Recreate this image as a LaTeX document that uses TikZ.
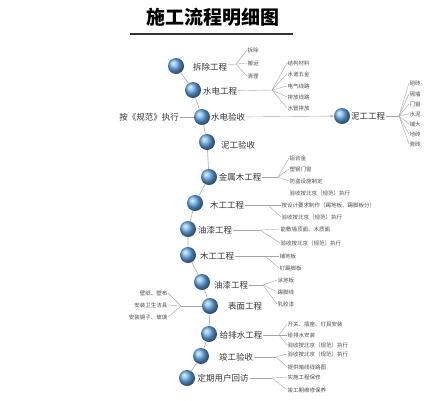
\documentclass[tikz,border=0pt]{standalone}
\usepackage{fontspec}
\newfontfamily\cjk{Noto Sans CJK SC}
\usetikzlibrary{arrows.meta}
\definecolor{ballblue}{RGB}{105,175,240}
\tikzset{
  ball/.style={circle,minimum size=16pt,inner sep=0pt,shading=ball,ball color=ballblue},
  stage/.style={font=\cjk\fontsize{8.5}{9}\selectfont,text=black!80,inner sep=1pt},
  item/.style={font=\cjk\fontsize{5.5}{6}\selectfont,text=black!70,inner sep=0.5pt,anchor=west},
  litem/.style={item,anchor=east},
  chainline/.style={draw=gray!60,line width=0.7pt},
  branch/.style={draw=gray!70,line width=0.4pt},
}

\begin{document}
\begin{tikzpicture}[x=1pt,y=-1pt]
\useasboundingbox (0,0) rectangle (430,400);
%%%%% TITLE %%%%%
\node[font=\cjk\bfseries\fontsize{19}{19}\selectfont] (title) at (213,17) {施工流程明细图};
\draw[line width=1.2pt,black!80] (130,34) -- (293,34);

%%%%% BALLS %%%%%
\node[ball] (b1) at (176,66) {};
\node[ball] (b2) at (193,90) {};
\node[ball] (b3) at (202,117) {};
\node[ball] (b4) at (207,142) {};
\node[ball] (b5) at (209,177) {};
\node[ball] (b6) at (195,203) {};
\node[ball] (b7) at (188,229) {};
\node[ball] (b8) at (188,255) {};
\node[ball] (b9) at (202,282) {};
\node[ball] (b10) at (210,306) {};
\node[ball] (b11) at (209,334) {};
\node[ball] (b12) at (201,356) {};
\node[ball] (b13) at (187,378) {};
\node[ball] (b14) at (342,116) {};

\draw[chainline] (b1) -- (b2) -- (b3) -- (b4) -- (b5) -- (b6) -- (b7)
  -- (b8) -- (b9) -- (b10) -- (b11) -- (b12) -- (b13);

%%%%% STAGES %%%%%
\node[stage] (t1) at (210,67) {拆除工程};
\node[stage] (t2) at (220,91) {水电工程};
\node[stage,anchor=west] (t3) at (210,117) {水电验收};
\node[stage] (t4) at (238,145) {泥工验收};
\node[stage] (t5) at (240,177) {金属木工程};
\node[stage] (t6) at (227,205) {木工工程};
\node[stage] (t7) at (215,230) {油漆工程};
\node[stage] (t8) at (217,256) {木工工程};
\node[stage] (t9) at (231,285) {油漆工程};
\node[stage] (t10) at (245,306) {表面工程};
\node[stage] (t11) at (241,335) {给排水工程};
\node[stage] (t12) at (236,357) {竣工验收};
\node[stage] (t13) at (223,378) {定期用户回访};
\node[stage] (t14) at (368,116) {泥工工程};
\node[stage] (t15) at (149,117) {按《规范》执行};

\draw[branch] (t15) -- (b3);
\draw[branch,-{Stealth[length=4pt,width=3pt]}] (t3) -- (b14);

%%%%% BRANCHES %%%%%
% 拆除工程
\coordinate (f1) at (236,64);
\foreach \n/\y/\t in {a/50/拆除,b/63/搬运,c/76/清理}
  \node[item] (i1\n) at (247,\y) {\t};
\draw[branch] (t1) -- (f1);
\foreach \n in {a,b,c} \draw[branch] (f1) -- (i1\n.west);

% 水电工程
\coordinate (f2) at (272,90);
\foreach \n/\y/\t in {a/63/结构材料,b/74/水道五金,c/86/电气线路,d/97/排放线路,e/108/水管排放}
  \node[item] (i2\n) at (287,\y) {\t};
\draw[branch] (t2) -- (f2);
\foreach \n in {a,b,c,d,e} \draw[branch] (f2) -- (i2\n.west);

% 泥工工程
\coordinate (f14) at (399,116);
\foreach \n/\y/\t in {a/83/砌砖,b/94/隔墙,c/104/门窗,d/114/水泥,e/124/铺大,f/134/地砖,g/144/瓷砖}
  \node[item] (i14\n) at (409,\y) {\t};
\draw[branch] (t14) -- (f14);
\foreach \n in {a,b,c,d,e,f,g} \draw[branch] (f14) -- (i14\n.west);

% 金属木工程
\coordinate (f5) at (278,177);
\foreach \n/\y/\t in {a/158/铝合金,b/169/塑钢门窗,c/181/防盗设施制定,d/193/验收按北京（规范）执行}
  \node[item] (i5\n) at (289,\y) {\t};
\draw[branch] (t5) -- (f5);
\foreach \n in {a,b,c} \draw[branch] (f5) -- (i5\n.west);

% 木工工程
\coordinate (f6) at (268,205);
\foreach \n/\y/\t in {a/205/按设计要求制作（踢地板、踢脚板分）,b/217/验收按北京（规范）执行}
  \node[item] (i6\n) at (281,\y) {\t};
\draw[branch] (t6) -- (f6);
\foreach \n in {a,b} \draw[branch] (f6) -- (i6\n.west);

% 油漆工程
\coordinate (f7) at (260,230);
\foreach \n/\y/\t in {a/229/能敷墙顶面、木质面,b/243/验收按北京（规范）执行}
  \node[item] (i7\n) at (280,\y) {\t};
\draw[branch] (t7) -- (f7);
\foreach \n in {a,b} \draw[branch] (f7) -- (i7\n.west);

% 木工工程 (地板)
\coordinate (f8) at (265,256);
\foreach \n/\y/\t in {a/256/铺地板,b/268/钉踢脚板}
  \node[item] (i8\n) at (279,\y) {\t};
\draw[branch] (t8) -- (f8);
\foreach \n in {a,b} \draw[branch] (f8) -- (i8\n.west);

% 油漆工程 (面层)
\coordinate (f9) at (263,285);
\foreach \n/\y/\t in {a/280/涂地板,b/292/踢脚线,c/304/乳胶漆}
  \node[item] (i9\n) at (277,\y) {\t};
\draw[branch] (t9) -- (f9);
\foreach \n in {a,b,c} \draw[branch] (f9) -- (i9\n.west);

% 表面工程 (left side)
\coordinate (f10) at (181,306);
\foreach \n/\y/\t in {a/293/壁纸、壁布,b/305/安装卫生洁具,c/317/安装镜子、玻璃}
  \node[litem] (i10\n) at (168,\y) {\t};
\draw[branch] (b10) -- (f10);
\foreach \n in {a,b,c} \draw[branch] (f10) -- (i10\n.east);

% 给排水工程
\coordinate (f11) at (279,335);
\foreach \n/\y/\t in {a/324/开关、插座、灯具安装,b/335/给排水安装,c/345/验收按北京（规范）执行}
  \node[item] (i11\n) at (287,\y) {\t};
\draw[branch] (t11) -- (f11);
\foreach \n in {a,b,c} \draw[branch] (f11) -- (i11\n.west);

% 竣工验收
\coordinate (f12) at (276,357);
\foreach \n/\y/\t in {a/354/验收按北京（规范）执行,b/367/提供暗线线路图}
  \node[item] (i12\n) at (287,\y) {\t};
\draw[branch] (t12) -- (f12);
\foreach \n in {a,b} \draw[branch] (f12) -- (i12\n.west);

% 定期用户回访
\coordinate (f13) at (272,378);
\foreach \n/\y/\t in {a/377/实施工程保修,b/390/竣工期维修保养}
  \node[item] (i13\n) at (287,\y) {\t};
\draw[branch] (t13) -- (f13);
\foreach \n in {a,b} \draw[branch] (f13) -- (i13\n.west);
\end{tikzpicture}
\end{document}
